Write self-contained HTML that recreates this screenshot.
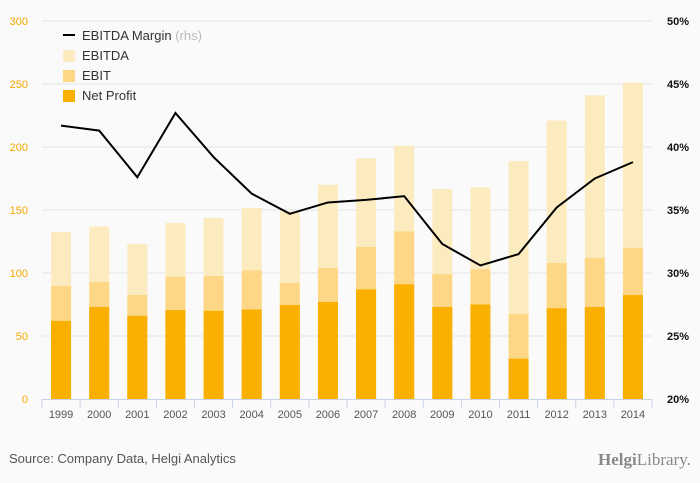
<!DOCTYPE html>
<html><head><meta charset="utf-8"><style>
body{margin:0;background:#fafafa;font-family:"Liberation Sans",sans-serif}
svg{display:block}
</style></head><body>
<svg id="chart" width="700" height="483">
<rect x="0" y="0" width="700" height="483" fill="#fafafa"/>
<g id="grid"></g><g id="bars"></g><g id="line"></g><g id="axes"></g>
<g font-size="13" fill="#333">
<line x1="63" y1="35" x2="75" y2="35" stroke="#000" stroke-width="2"/>
<text x="82" y="40">EBITDA Margin <tspan fill="#bbb">(rhs)</tspan></text>
<rect x="63" y="50" width="12" height="12" fill="#fdebc0"/>
<text x="82" y="60">EBITDA</text>
<rect x="63" y="70" width="12" height="12" fill="#fdd785"/>
<text x="82" y="80">EBIT</text>
<rect x="63" y="90" width="12" height="12" fill="#f9b000"/>
<text x="82" y="100">Net Profit</text>
</g>
<text x="9" y="463" font-size="13" fill="#555">Source: Company Data, Helgi Analytics</text>
<text x="598" y="465" font-size="17" fill="#888" font-family="Liberation Serif,serif"><tspan font-weight="bold">Helgi</tspan>Library.</text>
</svg>
<script>
const years=["1999","2000","2001","2002","2003","2004","2005","2006","2007","2008","2009","2010","2011","2012","2013","2014"];
const netProfit=[62,73,66,70.6,70,71,74.6,77,87,91,73,75,32,72,73,82.5];
const ebit=[89.7,93,82.5,97,97.6,102,92,104,120.6,133,99,103,67.5,108,112,120];
const ebitda=[132.5,137,123,139.7,143.7,151.6,149,170,191,201,166.7,168,189,221,241,251];
const margin=[41.7,41.3,37.6,42.7,39.2,36.3,34.7,35.6,35.8,36.1,32.3,30.6,31.5,35.2,37.5,38.8];
const leftTicks=[0,50,100,150,200,250,300];
const rightTicks=[20,25,30,35,40,45,50];
const NS="http://www.w3.org/2000/svg";
const x0=42,x1=652,yB=399,yT=21,slot=(x1-x0)/years.length,bw=20;
const yL=v=>yB-(v/300)*(yB-yT);
const yR=v=>yB-((v-20)/30)*(yB-yT);
const xC=i=>x0+slot*(i+0.5);
function mk(tag,attrs,parent){const e=document.createElementNS(NS,tag);for(const k in attrs)e.setAttribute(k,attrs[k]);document.getElementById(parent).appendChild(e);return e;}
leftTicks.forEach((t,i)=>{
 if(t>0){const g=mk('line',{x1:x0,x2:x1,y1:yL(t),y2:yL(t),stroke:'#e4e4e4'},'grid');
 
 }
 const l=mk('text',{x:28,y:yL(t)+4,'text-anchor':'end','font-size':11,fill:'#f5a800'},'axes');l.textContent=t;
 
 
 const r=mk('text',{x:667,y:yR(rightTicks[i])+4,'font-size':11,'font-weight':'bold',fill:'#111'},'axes');r.textContent=rightTicks[i]+'%';
 
 
});
const ax=mk('line',{x1:x0,x2:x1,y1:yB+0.5,y2:yB+0.5,stroke:'#c8d4e6'},'axes');


years.forEach((y,i)=>{
 const tk=mk('line',{x1:x0+slot*i,x2:x0+slot*i,y1:yB,y2:yB+9,stroke:'#c8d4e6'},'axes');
 
 
 const t=mk('text',{x:xC(i),y:yB+19,'text-anchor':'middle','font-size':11,fill:'#555'},'axes');t.textContent=y;
 
 
 [[ebitda,'#fdebc0','bar-ebitda'],[ebit,'#fdd785','bar-ebit'],[netProfit,'#f9b000','bar-net-profit']].forEach(([arr,c,n])=>{
  const b=mk('rect',{x:xC(i)-bw/2,y:yL(arr[i]),width:bw,height:yB-yL(arr[i]),fill:c},'bars');
  
  
 });
});
const tk=mk('line',{x1:x1,x2:x1,y1:yB,y2:yB+9,stroke:'#c8d4e6'},'axes');


const p=mk('polyline',{points:margin.map((m,i)=>xC(i)+','+yR(m)).join(' '),fill:'none',stroke:'#000','stroke-width':2},'line');


</script>
</body></html>
